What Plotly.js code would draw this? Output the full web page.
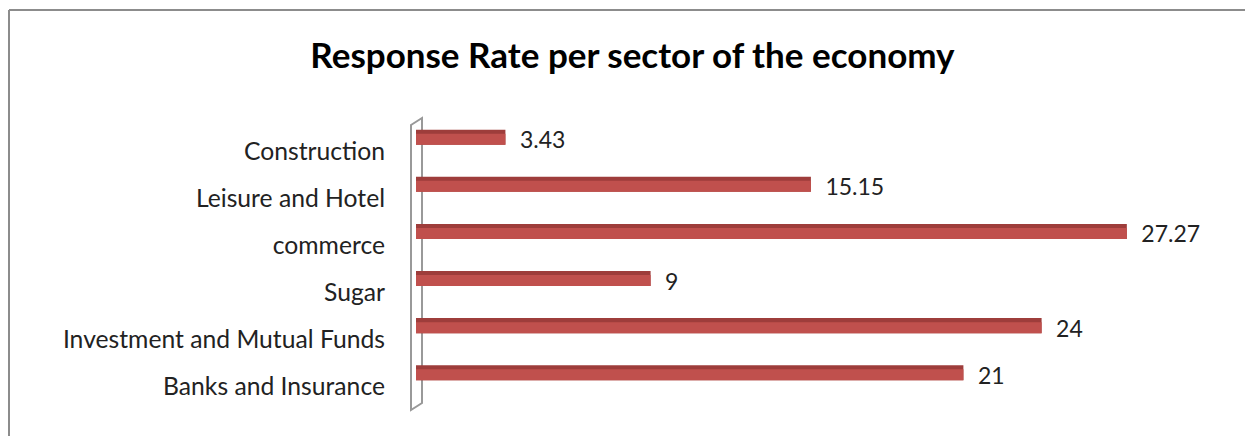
<!DOCTYPE html>
<html>
<head>
<meta charset="utf-8">
<script src="https://cdn.plot.ly/plotly-3.0.1.min.js"></script>
<style>html,body{margin:0;padding:0;background:#fff;}#chart{width:1245px;height:436px;}</style>
</head>
<body>
<div id="chart"></div>
<script>
// Data (bottom to top as drawn)
const categories = ["Banks and Insurance", "Investment and Mutual Funds", "Sugar", "commerce", "Leisure and Hotel", "Construction"];
const values = [21, 24, 9, 27.27, 15.15, 3.43];
const positions = [0, 1, 2, 3, 4, 5];

const FONT = "Lato, 'Noto Sans', sans-serif";
const W = 1245, H = 436, ML = 416, MR = 47, MT = 111, MB = 33;
const PW = W - ML - MR, PH = H - MT - MB;
const px = x => (x - ML) / PW;          // pixel -> paper x
const py = y => (H - MB - y) / PH;      // pixel -> paper y

const topFace = {
  type: "bar", orientation: "h",
  x: values, y: positions,
  width: 0.32, offset: -0.117,
  marker: {color: "#9e3d3b", line: {width: 0}},
  hoverinfo: "skip", showlegend: false
};
const frontFace = {
  type: "bar", orientation: "h",
  x: values, y: positions,
  width: 0.234, offset: -0.117,
  marker: {color: "#c0504d", line: {width: 0}},
  text: values.map(v => "\u2002" + v),
  textposition: "outside",
  constraintext: "none",
  cliponaxis: false,
  textfont: {family: FONT, size: 23, color: "#222"},
  showlegend: false
};

const layout = {
  width: W, height: H,
  margin: {l: ML, r: MR, t: MT, b: MB},
  paper_bgcolor: "#fff", plot_bgcolor: "rgba(0,0,0,0)",
  barmode: "overlay",
  title: {text: "<b>Response Rate per sector of the economy</b>", x: 0.508, xanchor: "center", y: 1 - 56/436, yanchor: "middle",
          font: {family: FONT, size: 35, color: "#000"}},
  xaxis: {range: [0, 30], visible: false, fixedrange: true},
  yaxis: {range: [-0.6, 5.6], tickvals: positions, ticktext: categories, showgrid: false, zeroline: false,
          showline: false, ticks: "", ticklabelshift: 12, ticklabelstandoff: 30,
          tickfont: {family: FONT, size: 24.7, color: "#222"}, fixedrange: true},
  shapes: [
    {type: "line", xref: "paper", yref: "paper", x0: px(9), x1: px(1260), y0: py(10), y1: py(10), line: {color: "#8c8c8c", width: 2}},
    {type: "line", xref: "paper", yref: "paper", x0: px(9), x1: px(9), y0: py(10), y1: py(450), line: {color: "#8c8c8c", width: 2}},
    {type: "path", xref: "paper", yref: "paper",
     path: "M " + px(411) + "," + py(125) + " L " + px(422) + "," + py(118) +
           " L " + px(422) + "," + py(403) + " L " + px(411) + "," + py(410) + " Z",
     line: {color: "#999", width: 2}, fillcolor: "rgba(0,0,0,0)", layer: "below"}
  ]
};

Plotly.newPlot("chart", [topFace, frontFace], layout, {displayModeBar: false, staticPlot: true});
</script>
</body>
</html>
